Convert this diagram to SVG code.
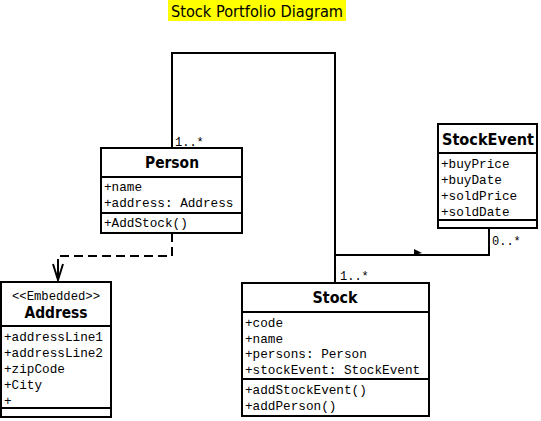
<svg xmlns="http://www.w3.org/2000/svg" width="541" height="421" viewBox="0 0 541 421">
<style>
.box{fill:#fff;stroke:#000;stroke-width:2}
.sep{stroke:#000;stroke-width:2}
.ttl{font-family:"DejaVu Sans",Verdana,sans-serif;font-weight:bold;font-size:15px;text-anchor:middle}
.at{font-family:"Liberation Mono","Courier New",monospace;font-size:12.7px;fill:#000}
.lbl{font-family:"Liberation Mono","Courier New",monospace;font-size:12px;fill:#000}
.ln{fill:none;stroke:#000;stroke-width:2}
</style>
<rect width="541" height="421" fill="#fff"/>
<g id="title">
<rect x="168" y="0" width="178" height="21" fill="#ffff00"/>
<text x="257" y="17" font-family="DejaVu Sans,Verdana,sans-serif" font-size="15" text-anchor="middle" textLength="172" lengthAdjust="spacingAndGlyphs">Stock Portfolio Diagram</text>
</g>
<g id="connectors">
<polyline class="ln" points="172,148 172,53 335,53 335,283"/>
<polyline class="ln" points="489,228 489,255 336,255"/>
<polygon points="414,249 422,253 414,255" fill="#000"/>
<polyline class="ln" points="172,233 172,256 58,256 58,262" stroke-dasharray="9,5"/>
<polyline class="ln" points="58,262 58,280"/>
<polyline class="ln" points="53,264 58,280 63,264" stroke-width="1.8"/>
<text class="lbl" x="175" y="146">1..*</text>
<text class="lbl" x="492" y="245">0..*</text>
<text class="lbl" x="340" y="280">1..*</text>
</g>
<g id="person">
<rect class="box" x="101" y="148" width="141" height="85"/>
<line class="sep" x1="101" y1="177" x2="242" y2="177"/>
<line class="sep" x1="101" y1="213" x2="242" y2="213"/>
<text class="ttl" x="172" y="168" textLength="54" lengthAdjust="spacingAndGlyphs">Person</text>
<text class="at" x="104" y="191">+name</text>
<text class="at" x="104" y="207">+address: Address</text>
<text class="at" x="104" y="227">+AddStock()</text>
</g>
<g id="stockevent">
<rect class="box" x="438" y="124" width="99" height="104"/>
<line class="sep" x1="438" y1="153" x2="537" y2="153"/>
<line class="sep" x1="438" y1="220" x2="537" y2="220"/>
<text class="ttl" x="488" y="145" textLength="92" lengthAdjust="spacingAndGlyphs">StockEvent</text>
<text class="at" x="441" y="168">+buyPrice</text>
<text class="at" x="441" y="184">+buyDate</text>
<text class="at" x="441" y="200">+soldPrice</text>
<text class="at" x="441" y="216">+soldDate</text>
</g>
<g id="stock">
<rect class="box" x="242" y="283" width="187" height="133"/>
<line class="sep" x1="242" y1="312" x2="429" y2="312"/>
<line class="sep" x1="242" y1="379" x2="429" y2="379"/>
<text class="ttl" x="335" y="303" textLength="45" lengthAdjust="spacingAndGlyphs">Stock</text>
<text class="at" x="245" y="327">+code</text>
<text class="at" x="245" y="343">+name</text>
<text class="at" x="245" y="358">+persons: Person</text>
<text class="at" x="245" y="374">+stockEvent: StockEvent</text>
<text class="at" x="245" y="394">+addStockEvent()</text>
<text class="at" x="245" y="410">+addPerson()</text>
</g>
<g id="address">
<rect class="box" x="1" y="282" width="110" height="135"/>
<line class="sep" x1="1" y1="326" x2="111" y2="326"/>
<line class="sep" x1="1" y1="408" x2="111" y2="408"/>
<text x="56" y="300" font-family="Liberation Mono,Courier New,monospace" font-size="12" text-anchor="middle" textLength="88" lengthAdjust="spacingAndGlyphs">&lt;&lt;Embedded&gt;&gt;</text>
<text class="ttl" x="56" y="318" textLength="63" lengthAdjust="spacingAndGlyphs">Address</text>
<text class="at" x="4" y="341">+addressLine1</text>
<text class="at" x="4" y="357">+addressLine2</text>
<text class="at" x="4" y="373">+zipCode</text>
<text class="at" x="4" y="389">+City</text>
<text class="at" x="4" y="405">+</text>
</g>
</svg>
